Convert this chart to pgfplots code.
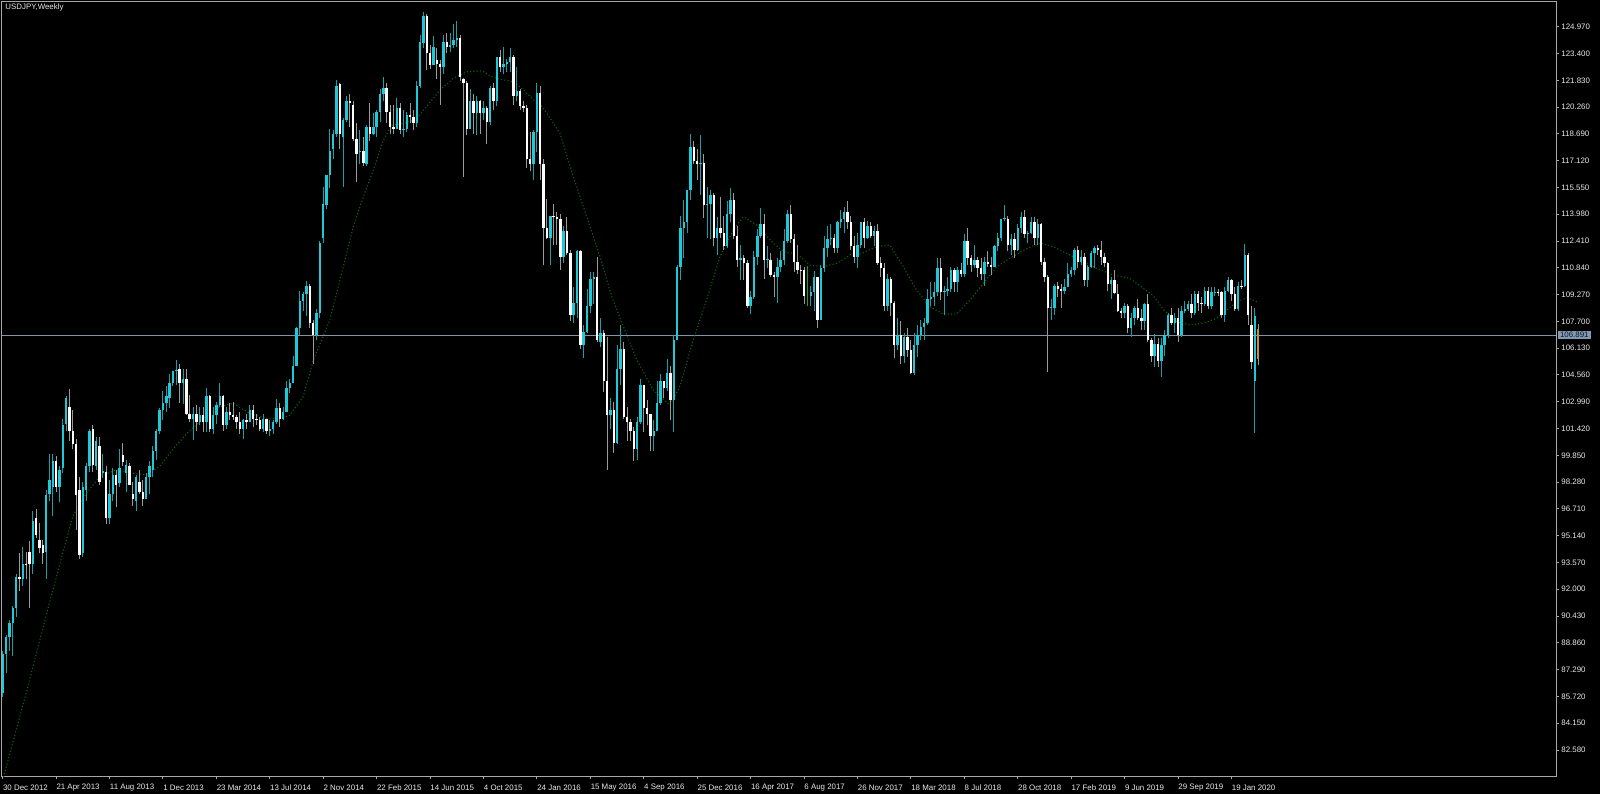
\documentclass[border=0pt]{standalone}
\usepackage{pgfplots}
\pgfplotsset{compat=1.18}
\usepackage{pgfplotstable}
\usepackage{fontspec}
\setmainfont{Liberation Sans}
\definecolor{bullc}{HTML}{1FCAD8}
\definecolor{bearc}{HTML}{FFFFFF}
\definecolor{bullw}{HTML}{1A9FA8}
\definecolor{bearw}{HTML}{9A9A9A}
\definecolor{dojic}{HTML}{1E9E1E}
\definecolor{framec}{HTML}{A8A8A8}
\definecolor{labc}{HTML}{E8E8E8}
\definecolor{mac}{HTML}{0B680B}
\definecolor{pricec}{HTML}{8593A6}
\definecolor{pricebox}{HTML}{8498B2}
\definecolor{pricetxt}{HTML}{0E1726}
\definecolor{curc}{HTML}{D08A2A}
\newcommand{\tf}{\fontsize{3.95pt}{4.6pt}\selectfont}

\pgfplotstableread{
i o h l c
0 85.9 88.4 85.7 88.2
1 88.2 89.3 87.1 89.2
2 89.2 90.2 88.4 90.0
3 90.0 91.0 88.1 90.9
4 90.9 92.9 90.4 92.7
5 92.7 94.1 91.9 92.6
6 92.6 94.5 92.2 93.5
7 93.5 94.2 92.6 93.4
8 94.2 94.8 90.9 93.5
9 93.5 96.6 92.9 96.0
10 96.2 96.7 95.0 95.2
11 94.9 95.9 94.1 94.4
12 94.6 94.9 93.5 94.1
13 94.2 97.8 92.6 97.5
14 97.6 99.95 97.2 98.4
15 98.0 99.9 96.3 99.5
16 99.5 99.8 97.7 98.0
17 98.0 99.2 97.1 99.0
18 99.1 102.0 98.8 101.6
19 101.7 103.3 101.3 103.2
20 102.7 103.74 100.7 101.3
21 101.3 102.5 100.2 100.5
22 100.5 100.8 95.5 97.5
23 97.8 98.6 93.8 94.0
24 94.1 98.3 93.9 98.0
25 97.8 99.4 97.2 99.2
26 99.2 101.4 98.9 101.3
27 101.4 101.6 98.9 99.3
28 99.2 100.9 99.0 100.7
29 100.4 100.9 98.1 98.3
30 98.8 99.95 98.5 98.95
31 98.9 99.2 95.8 96.2
32 96.2 98.4 95.8 97.6
33 97.6 99.1 97.2 98.7
34 98.7 99.0 96.8 98.1
35 98.2 100.2 98.0 99.1
36 99.85 100.6 99.2 99.45
37 98.8 99.6 97.7 99.3
38 99.2 99.4 98.1 98.1
39 97.6 98.3 96.9 97.3
40 97.2 98.7 96.6 98.6
41 98.3 99.0 97.6 97.7
42 97.7 98.4 96.9 97.3
43 97.3 98.8 97.3 98.6
44 98.6 99.5 97.6 99.2
45 99.0 100.4 98.6 100.1
46 100.1 101.4 99.6 101.3
47 101.3 102.6 101.1 102.5
48 102.5 103.6 101.9 102.9
49 102.9 103.9 102.4 103.3
50 103.2 104.6 102.6 104.1
51 104.1 104.8 103.9 104.8
52 104.8 105.44 104.0 104.85
53 104.9 105.2 102.9 104.1
54 104.1 104.9 102.86 104.3
55 104.3 104.9 102.2 102.3
56 102.3 103.4 101.8 102.0
57 102.0 102.7 100.76 102.3
58 102.3 102.8 101.3 101.8
59 101.8 102.7 101.6 102.2
60 102.2 102.7 101.2 101.8
61 101.8 103.8 101.2 103.3
62 103.3 103.4 101.2 101.4
63 101.4 102.7 101.1 102.2
64 102.2 103.0 101.7 102.8
65 102.8 104.1 102.7 103.3
66 103.3 103.4 101.3 101.6
67 101.6 102.7 101.4 102.4
68 102.4 102.9 101.9 102.2
69 102.2 103.0 101.9 102.1
70 102.1 102.2 101.4 101.8
71 101.8 102.4 101.1 101.4
72 101.4 102.0 100.8 101.9
73 101.9 102.3 101.4 101.8
74 101.8 102.8 101.8 102.5
75 102.5 102.8 101.5 102.0
76 102.0 102.3 101.6 101.9
77 101.9 102.1 101.3 101.4
78 101.4 102.3 101.2 102.0
79 102.0 102.0 101.1 101.3
80 101.3 101.9 101.0 101.4
81 101.4 101.9 101.1 101.8
82 101.8 103.15 101.7 102.6
83 102.6 102.9 101.5 102.0
84 102.0 102.7 101.9 102.4
85 102.4 104.2 102.4 103.8
86 103.8 104.3 103.5 104.1
87 104.1 105.7 104.1 105.1
88 105.1 107.4 105.1 107.3
89 107.3 109.5 106.9 108.9
90 108.9 109.4 108.3 109.3
91 109.3 110.09 108.0 109.8
92 109.8 109.9 107.3 107.6
93 107.6 107.8 105.2 106.9
94 106.9 108.4 106.6 108.2
95 108.2 112.4 107.9 112.3
96 112.6 115.6 112.3 114.6
97 114.5 116.3 114.3 116.3
98 116.3 118.98 115.5 117.7
99 117.8 118.9 117.2 118.7
100 118.7 121.85 118.5 121.5
101 121.6 121.7 117.8 118.7
102 118.5 119.6 115.57 119.5
103 119.5 120.9 119.4 120.6
104 120.6 121.0 119.1 120.5
105 120.4 120.6 118.3 118.4
106 118.4 119.3 115.85 117.5
107 117.6 118.9 116.9 117.7
108 117.7 118.5 116.8 117.0
109 116.9 119.2 116.8 119.1
110 119.1 120.5 118.3 118.7
111 118.7 119.9 118.6 119.1
112 119.1 120.1 118.5 120.0
113 120.0 121.3 119.4 121.0
114 121.0 122.03 120.6 121.4
115 121.4 121.7 119.3 120.0
116 120.0 120.4 118.7 119.1
117 119.1 120.4 118.7 119.0
118 119.0 120.8 119.0 120.2
119 120.2 120.5 118.7 118.9
120 118.9 120.1 118.5 119.0
121 119.0 120.0 118.8 119.8
122 119.8 120.5 119.3 119.7
123 119.7 120.1 118.9 119.3
124 119.3 121.8 119.1 121.5
125 121.5 124.46 121.4 124.1
126 124.0 125.86 123.7 125.6
127 125.6 125.7 122.46 123.4
128 123.4 123.9 122.5 122.7
129 122.7 124.4 122.7 123.8
130 123.0 123.7 121.9 122.8
131 122.8 123.0 120.4 122.6
132 122.6 124.5 122.2 124.1
133 124.1 124.6 123.4 123.8
134 123.8 124.6 123.5 123.9
135 123.9 125.1 123.7 124.2
136 124.2 125.28 123.8 124.3
137 124.3 124.5 121.8 122.0
138 121.9 121.95 116.15 121.7
139 121.7 121.8 118.6 119.0
140 119.0 121.3 119.0 120.6
141 120.6 121.0 118.7 119.9
142 119.9 120.9 118.6 120.6
143 120.6 120.7 118.7 119.9
144 119.9 120.6 119.5 120.2
145 120.2 120.3 118.1 119.4
146 119.4 121.5 119.2 121.4
147 121.4 121.7 120.1 120.6
148 120.6 123.2 120.3 123.2
149 123.2 123.6 122.3 122.6
150 122.6 123.8 122.2 122.8
151 122.8 123.1 122.3 122.9
152 122.9 123.7 122.3 123.2
153 123.2 123.3 120.4 120.9
154 120.9 122.6 120.6 121.2
155 121.2 121.3 120.1 120.3
156 120.3 120.6 120.0 120.2
157 120.2 120.4 116.7 117.2
158 117.2 118.8 116.5 116.9
159 116.9 118.9 115.98 118.8
160 118.8 121.7 117.6 121.1
161 121.1 121.5 115.97 116.9
162 116.9 117.2 110.98 113.2
163 113.2 114.9 112.5 112.6
164 112.6 113.4 111.0 113.9
165 113.9 114.6 112.2 113.8
166 113.8 114.1 112.2 113.7
167 113.7 114.0 110.7 111.5
168 111.5 113.3 111.1 113.0
169 113.0 113.8 111.6 111.7
170 111.7 111.9 107.7 108.1
171 108.1 109.7 107.6 108.8
172 108.8 111.9 107.9 111.8
173 111.8 111.9 106.1 106.3
174 106.3 107.5 105.55 107.1
175 107.1 109.6 107.0 108.6
176 108.6 110.6 108.2 110.2
177 110.2 110.6 108.7 110.3
178 110.3 111.45 106.5 106.6
179 106.5 107.9 106.2 107.0
180 107.0 107.2 103.55 104.2
181 104.2 106.8 99.0 102.2
182 102.2 103.2 101.4 102.5
183 102.5 103.0 99.99 100.6
184 100.6 106.3 100.5 104.9
185 104.9 107.5 104.0 106.1
186 106.1 106.5 102.0 102.1
187 102.1 102.7 100.7 101.8
188 101.8 102.0 100.7 101.3
189 101.3 101.5 99.5 100.2
190 100.2 102.1 99.6 101.8
191 101.8 104.3 101.7 104.0
192 104.0 104.0 101.2 102.6
193 102.6 103.1 101.6 102.3
194 102.3 102.3 100.1 101.0
195 101.0 101.9 100.1 101.3
196 101.3 104.2 101.3 102.9
197 102.9 104.6 102.8 104.2
198 104.2 104.2 103.2 103.8
199 103.8 105.5 103.6 104.7
200 104.7 105.1 101.9 103.1
201 103.1 106.9 101.2 106.6
202 106.6 111.0 106.6 110.9
203 110.9 113.9 110.1 113.2
204 113.2 114.8 111.4 113.5
205 113.5 115.4 112.9 115.4
206 115.4 118.66 114.8 117.9
207 117.9 118.3 116.9 117.1
208 117.1 117.8 116.0 116.9
209 116.9 118.6 115.1 117.0
210 117.0 117.5 113.75 114.5
211 114.5 115.6 112.6 114.6
212 114.6 115.4 112.5 115.1
213 115.1 115.2 112.1 112.6
214 112.6 113.8 111.6 113.2
215 113.2 115.0 112.6 112.9
216 112.9 113.9 111.9 112.1
217 112.1 114.75 112.0 114.0
218 114.0 115.5 113.5 114.8
219 114.8 115.2 112.5 112.7
220 112.7 113.3 110.9 111.3
221 111.3 112.2 110.1 111.4
222 111.4 111.6 110.1 111.1
223 111.1 111.3 108.5 108.6
224 108.6 109.5 108.13 109.1
225 109.1 111.8 109.0 111.5
226 111.5 113.1 111.0 112.7
227 112.7 114.37 112.6 113.4
228 113.4 114.0 110.2 111.3
229 111.3 112.1 110.8 111.35
230 111.3 111.7 110.3 110.4
231 110.4 110.6 109.1 110.3
232 110.3 111.4 108.8 110.9
233 110.9 111.8 110.6 111.3
234 111.3 113.1 111.0 112.4
235 112.4 114.2 112.3 114.0
236 114.0 114.5 112.3 112.5
237 112.5 112.8 110.6 111.2
238 111.2 112.2 110.5 110.7
239 110.7 111.0 109.9 110.65
240 110.7 110.9 108.7 109.2
241 109.2 110.95 108.6 109.2
242 109.2 109.8 108.6 109.4
243 109.4 110.67 108.3 110.3
244 110.3 110.3 107.32 107.8
245 107.8 111.0 107.8 110.8
246 110.8 112.7 110.6 112.0
247 112.0 113.3 111.5 112.5
248 112.5 113.4 112.2 112.6
249 112.6 112.8 111.7 112.0
250 112.0 113.6 111.7 113.5
251 113.5 114.2 113.2 113.7
252 113.7 114.4 112.9 114.1
253 114.1 114.73 113.1 113.5
254 113.5 113.9 111.9 112.1
255 112.1 112.7 111.1 111.5
256 111.5 112.9 110.8 112.2
257 112.2 113.5 112.0 113.5
258 113.5 113.75 112.0 112.6
259 112.6 113.6 112.5 113.3
260 113.3 113.5 112.6 112.7
261 112.7 113.3 112.1 113.0
262 113.0 113.4 111.0 111.1
263 111.1 111.5 110.3 110.8
264 110.8 111.1 108.3 108.6
265 108.6 110.5 108.3 110.2
266 110.2 110.3 108.0 108.8
267 108.8 108.9 105.55 106.3
268 106.3 107.9 106.0 106.9
269 106.9 107.7 105.2 105.7
270 105.7 107.0 105.25 106.8
271 106.8 107.3 105.6 106.0
272 106.0 106.6 104.6 104.7
273 104.7 107.0 104.56 106.3
274 106.3 107.5 105.6 106.9
275 106.9 107.8 106.6 107.4
276 107.4 107.9 106.6 107.6
277 107.6 109.6 107.5 109.0
278 109.0 110.0 108.6 109.1
279 109.1 110.0 108.6 109.4
280 109.4 111.4 109.2 110.8
281 110.8 111.4 108.95 109.4
282 109.4 109.8 108.1 109.5
283 109.5 110.3 109.2 109.6
284 109.6 110.9 109.4 110.7
285 110.7 110.8 109.4 110.0
286 110.0 110.9 109.4 110.7
287 110.7 111.1 110.3 110.5
288 110.5 112.8 110.3 112.4
289 112.4 113.18 111.0 111.4
290 111.4 111.6 110.6 111.0
291 111.0 112.2 110.8 111.3
292 111.3 111.5 110.3 110.8
293 110.8 111.4 110.1 110.5
294 110.5 111.5 109.8 111.2
295 111.2 111.8 110.9 111.05
296 111.0 111.5 110.4 110.9
297 110.9 112.2 110.9 112.1
298 112.1 112.9 111.8 112.6
299 112.6 113.7 112.4 113.7
300 113.7 114.55 113.6 113.75
301 113.7 113.9 111.8 112.2
302 112.2 112.8 111.6 112.5
303 112.5 112.9 111.4 111.9
304 111.9 113.4 111.8 113.2
305 113.2 114.1 112.9 113.8
306 113.8 114.2 112.6 112.8
307 112.8 113.0 112.3 112.9
308 112.9 113.8 112.8 113.5
309 113.5 113.8 112.2 112.6
310 112.6 113.7 112.2 113.4
311 113.4 113.45 111.0 111.2
312 111.2 111.4 110.0 110.3
313 110.3 110.4 104.75 108.5
314 108.5 109.0 107.8 108.55
315 108.5 109.9 108.1 109.8
316 109.8 110.0 109.1 109.6
317 109.6 109.9 108.5 109.5
318 109.5 110.2 109.3 109.7
319 109.7 111.1 109.7 110.5
320 110.5 110.9 110.3 110.7
321 110.7 112.0 110.4 111.9
322 111.9 112.1 110.8 111.2
323 111.2 111.9 111.0 111.5
324 111.5 111.7 109.75 110.1
325 110.1 111.0 109.7 110.9
326 110.9 111.8 110.8 111.7
327 111.7 112.1 110.8 112.0
328 112.0 112.2 111.6 111.9
329 111.9 112.4 111.0 111.5
330 111.5 111.7 110.9 111.1
331 111.1 111.2 109.5 109.9
332 109.9 110.3 109.0 110.1
333 110.1 110.7 109.3 109.35
334 109.3 109.9 108.25 108.3
335 108.3 108.5 107.9 108.2
336 108.2 108.8 107.9 108.6
337 108.6 108.7 107.0 107.3
338 107.3 108.2 106.78 107.9
339 107.9 108.6 107.5 108.5
340 108.5 109.0 107.8 107.9
341 107.9 108.4 107.2 107.7
342 107.7 108.8 107.2 108.7
343 108.7 109.3 106.5 106.6
344 106.6 106.7 105.3 105.7
345 105.7 106.98 105.05 106.4
346 106.4 106.7 105.0 105.4
347 105.4 106.7 104.46 106.3
348 106.3 107.2 105.7 106.9
349 106.9 108.2 106.7 108.1
350 108.1 108.5 107.5 107.6
351 107.6 108.2 107.0 107.9
352 107.9 108.5 106.5 106.9
353 106.9 108.6 106.8 108.3
354 108.3 108.9 108.2 108.4
355 108.4 108.9 108.3 108.7
356 108.7 109.3 107.9 108.2
357 108.2 109.5 108.1 109.3
358 109.3 109.5 108.3 108.8
359 108.8 109.1 108.2 108.7
360 108.7 109.7 108.6 109.5
361 109.5 109.7 108.4 108.6
362 108.6 109.7 108.4 109.4
363 109.4 109.7 109.2 109.45
364 109.45 109.6 109.2 109.4
365 109.4 109.5 107.9 108.1
366 108.1 109.7 107.65 109.5
367 109.5 110.3 109.4 110.1
368 110.1 110.2 108.9 109.3
369 109.3 109.7 108.3 108.4
370 108.4 110.0 108.3 109.8
371 109.8 110.1 109.6 109.75
372 109.8 112.22 109.7 111.6
373 111.6 111.7 107.5 108.1
374 107.5 108.6 104.9 105.3
375 104.2 108.5 101.18 108.0
}\candles

\pgfplotstableread{
i o h l c
376 107.25 107.55 105.14 105.49
}\current

\pgfplotstableread{
i ma
0 80.8
7 85.9
14 91.2
21 96.3
25 97.6
29 98.6
34 99.0
39 98.8
43 98.7
47 99.2
51 100.2
55 101.1
60 102.0
65 102.7
69 102.9
74 102.3
79 102.0
83 102.0
86 102.2
90 103.3
93 105.4
98 107.8
102 110.9
105 113.25
108 115.0
111 116.57
114 118.33
116.5 119.2
120 119.3
123.5 119.5
127 120.3
131 121.26
135 121.95
139 122.33
143.5 122.39
146.4 122.04
149 121.89
153 121.75
156 121.26
159 120.67
161 120.4
163 119.89
166.9 118.72
170.9 116.18
174.9 113.83
178.9 111.49
182.4 109.15
185.9 107.39
189.9 105.44
194.8 103.68
199.8 102.8
202.8 103.87
206.8 106.61
210.8 108.95
214.8 111.49
218.8 113.05
221.8 113.83
225.8 113.35
229.8 112.47
233.8 111.78
237.8 111.65
241.8 111.0
245.8 110.9
249.8 111.1
253.8 111.6
256.8 111.65
261.8 112.08
265.7 112.18
269.7 110.9
273.7 109.54
277.7 108.56
281.7 108.13
285.7 108.13
289.7 108.95
293.7 109.93
297.7 110.9
301.7 111.4
306.7 111.98
310.7 112.28
314.6 112.08
318.6 111.69
322.6 111.3
327.6 110.81
332.6 110.42
337.6 110.22
341.6 109.64
344.6 109.2
347.6 108.4
351.6 107.68
355.6 107.49
359.6 107.59
363.6 107.88
366.6 108.37
369.6 108.85
372.6 109.09
375.6 108.85
}\madata

\begin{document}
\begin{tikzpicture}
\fill[black] (0,0) rectangle (800pt,397pt);
\begin{axis}[
  at={(1pt,9pt)}, anchor=south west,
  scale only axis, width=777pt, height=387pt,
  xmin=-0.21, xmax=465.2, ymin=81.056, ymax=126.418,
  axis line style={draw=framec, line width=0.5pt},
  tick style={draw=framec, line width=0.5pt},
  major tick length=1.5pt, tick align=outside,
  xtick pos=left, ytick pos=right,
  xticklabel pos=left, yticklabel pos=right,
  ticklabel style={font=\tf, text=labc},
  xtick={0,16,...,368},
  xticklabels={30 Dec 2012,21 Apr 2013,11 Aug 2013,1 Dec 2013,23 Mar 2014,13 Jul 2014,2 Nov 2014,22 Feb 2015,14 Jun 2015,4 Oct 2015,24 Jan 2016,15 May 2016,4 Sep 2016,25 Dec 2016,16 Apr 2017,6 Aug 2017,26 Nov 2017,18 Mar 2018,8 Jul 2018,28 Oct 2018,17 Feb 2019,9 Jun 2019,29 Sep 2019,19 Jan 2020},
  xticklabel style={anchor=west, inner sep=0pt, yshift=-4.3pt},
  ytick={82.58,84.15,85.72,87.29,88.86,90.43,92.00,93.57,95.14,96.71,98.28,99.85,101.42,102.99,104.56,106.13,107.70,109.27,110.84,112.41,113.98,115.55,117.12,118.69,120.26,121.83,123.40,124.97},
  yticklabels={82.580,84.150,85.720,87.290,88.860,90.430,92.000,93.570,95.140,96.710,98.280,99.850,101.420,102.990,104.560,106.130,107.700,109.270,110.840,112.410,113.980,115.550,117.120,118.690,120.260,121.830,123.400,124.970},
  yticklabel style={anchor=west, inner sep=0pt, xshift=1pt},
]
% bid line
\addplot[pricec, line width=0.5pt] coordinates {(-0.21,106.891) (465.2,106.891)};
% moving average
\addplot[mac, line width=0.55pt, dash pattern=on 0.55pt off 1.1pt] table[x=i, y=ma] {\madata};
% wicks
\addplot[bullw, line width=0.5pt, quiver={u=0, v=\thisrow{h}-\thisrow{l}},
  restrict expr to domain={\thisrow{c}-\thisrow{o}}{0.00001:1000}] table[x=i, y=l] {\candles};
\addplot[bearw, line width=0.5pt, quiver={u=0, v=\thisrow{h}-\thisrow{l}},
  restrict expr to domain={\thisrow{c}-\thisrow{o}}{-1000:-0.00001}] table[x=i, y=l] {\candles};
\addplot[dojic, line width=0.5pt, quiver={u=0, v=\thisrow{h}-\thisrow{l}},
  restrict expr to domain={\thisrow{c}-\thisrow{o}}{-0.00001:0.00001}] table[x=i, y=l] {\candles};
% bodies
\addplot[bullc, line width=1.2pt, quiver={u=0, v=\thisrow{c}-\thisrow{o}},
  restrict expr to domain={\thisrow{c}-\thisrow{o}}{0.00001:1000}] table[x=i, y=o] {\candles};
\addplot[bearc, line width=1.2pt, quiver={u=0, v=\thisrow{c}-\thisrow{o}},
  restrict expr to domain={\thisrow{c}-\thisrow{o}}{-1000:-0.00001}] table[x=i, y=o] {\candles};
% current bar
\addplot[bearw, line width=0.5pt, quiver={u=0, v=\thisrow{h}-\thisrow{l}}] table[x=i, y=l] {\current};
\addplot[curc, line width=1.2pt, quiver={u=0, v=\thisrow{c}-\thisrow{o}}] table[x=i, y=o] {\current};
\coordinate (pl) at (axis cs:465.2,106.891);
\end{axis}
\node[anchor=west, inner sep=0pt, font=\tf, text=labc] at (2.5pt,393.3pt) {USDJPY,Weekly};
\node[anchor=west, fill=pricebox, text=pricetxt, font=\tf, inner xsep=1pt, inner ysep=0.7pt] at ([xshift=0.8pt]pl) {106.891};
\pgfresetboundingbox
\path[use as bounding box] (0,0) rectangle (800pt,397pt);
\end{tikzpicture}
\end{document}
